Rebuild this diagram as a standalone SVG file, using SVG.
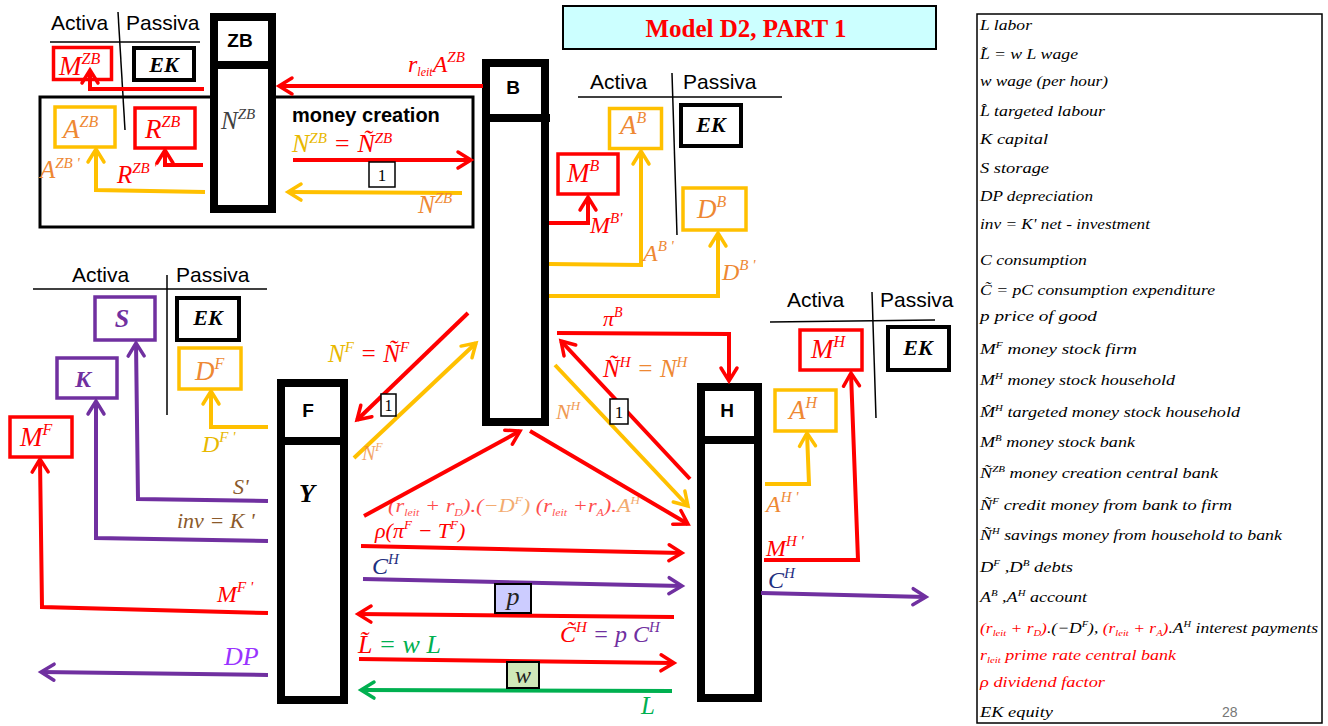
<svg xmlns="http://www.w3.org/2000/svg" width="1328" height="726" viewBox="0 0 1328 726">
<style>
.lgd{font-family:"Liberation Serif","DejaVu Serif",serif;font-style:italic;font-size:15px;fill:#000}
.m{font-family:"Liberation Serif","DejaVu Serif",serif;font-style:italic}
.bi{font-family:"Liberation Serif","DejaVu Serif",serif;font-style:italic;font-weight:bold}
.s{font-family:"Liberation Sans",Arial,sans-serif}
.hd{font-family:"Liberation Sans",Arial,sans-serif;font-weight:bold;font-size:19px;text-anchor:middle}
.ap{font-family:"Liberation Sans",Arial,sans-serif;font-size:21px;fill:#000}
.col{fill:#fff;stroke:#000;stroke-width:8}
.div{stroke:#000;stroke-width:8}
.thin{stroke:#000;stroke-width:1.5;fill:none}
.bR{fill:#fff;stroke:#FF0000;stroke-width:3.5}
.bG{fill:#fff;stroke:#FFC000;stroke-width:3.5}
.bP{fill:#fff;stroke:#7030A0;stroke-width:3.5}
.bK{fill:#fff;stroke:#000;stroke-width:4}
.one{fill:#fff;stroke:#000;stroke-width:1.5}
.lr{fill:none;stroke:#FF0000;stroke-width:4;marker-end:url(#mr)}
.lg{fill:none;stroke:#FFC000;stroke-width:4;marker-end:url(#mg)}
.lp{fill:none;stroke:#7030A0;stroke-width:4;marker-end:url(#mp)}
.lgr{fill:none;stroke:#00B050;stroke-width:4;marker-end:url(#mgr)}
.red{fill:#FF0000}.org{fill:#EE8833}.gold{fill:#E8B800}.pur{fill:#7030A0}.blu{fill:#1F3080}.brn{fill:#8B5A2B}.grn{fill:#00B050}
</style>
<defs>
<marker id="mr" viewBox="0 0 20 20" refX="17" refY="10" markerWidth="20" markerHeight="20" markerUnits="userSpaceOnUse" orient="auto" overflow="visible"><path d="M4,2 L17,10 L4,18" fill="none" stroke="#FF0000" stroke-width="3.5" stroke-linecap="round"/></marker>
<marker id="mg" viewBox="0 0 20 20" refX="17" refY="10" markerWidth="20" markerHeight="20" markerUnits="userSpaceOnUse" orient="auto" overflow="visible"><path d="M4,2 L17,10 L4,18" fill="none" stroke="#FFC000" stroke-width="3.5" stroke-linecap="round"/></marker>
<marker id="mp" viewBox="0 0 20 20" refX="17" refY="10" markerWidth="20" markerHeight="20" markerUnits="userSpaceOnUse" orient="auto" overflow="visible"><path d="M4,2 L17,10 L4,18" fill="none" stroke="#7030A0" stroke-width="3.5" stroke-linecap="round"/></marker>
<marker id="mgr" viewBox="0 0 20 20" refX="17" refY="10" markerWidth="20" markerHeight="20" markerUnits="userSpaceOnUse" orient="auto" overflow="visible"><path d="M4,2 L17,10 L4,18" fill="none" stroke="#00B050" stroke-width="3.5" stroke-linecap="round"/></marker>
</defs>
<rect width="1328" height="726" fill="#fff"/>

<!-- Title -->
<g id="title">
<rect x="563" y="6" width="373" height="43" fill="#CCFFFF" stroke="#000" stroke-width="2"/>
<text x="746" y="37" font-family="Liberation Serif,serif" font-weight="bold" font-size="25" fill="#FF0000" text-anchor="middle">Model D2, PART 1</text>
</g>

<!-- ZB balance sheet -->
<g id="balance-ZB">
<text class="ap" x="51" y="30">Activa</text>
<text class="ap" x="126" y="30">Passiva</text>
<line class="thin" x1="50" y1="42" x2="200" y2="42"/>
<line class="thin" x1="118" y1="12" x2="125" y2="130"/>
<rect class="bR" x="53.5" y="47.5" width="58" height="32"/>
<text class="m red" x="59" y="75" font-size="27">M<tspan dy="-11" font-size="16">ZB</tspan></text>
<rect class="bK" x="134" y="48" width="60" height="32"/>
<text class="bi" x="164" y="72" font-size="22" text-anchor="middle">EK</text>
</g>

<g id="money-creation">
<rect x="40" y="97" width="433" height="130" fill="none" stroke="#000" stroke-width="3"/>
<rect class="bG" x="55" y="107" width="60" height="40"/>
<text class="m org" x="63" y="138" font-size="27">A<tspan dy="-11" font-size="16">ZB</tspan></text>
<rect class="bR" x="135" y="108" width="60" height="40"/>
<text class="m red" x="145" y="138" font-size="27">R<tspan dy="-11" font-size="16">ZB</tspan></text>
<text class="s" x="292" y="122" font-size="20" font-weight="bold">money creation</text>
</g>

<!-- ZB column -->
<g id="ZB">
<rect class="col" x="214" y="17" width="58" height="192"/>
<line class="div" x1="210" y1="65" x2="276" y2="65"/>
<text class="hd" x="240" y="47">ZB</text>
<text class="m" x="221" y="129" font-size="25" fill="#404040">N<tspan dy="-10" font-size="15">ZB</tspan></text>
</g>

<!-- B column -->
<g id="B">
<rect class="col" x="486" y="63" width="59" height="359"/>
<line class="div" x1="482" y1="118" x2="550" y2="118"/>
<text class="hd" x="513" y="94">B</text>
</g>

<g id="balance-B">
<text class="ap" x="590" y="89">Activa</text>
<text class="ap" x="683" y="89">Passiva</text>
<line class="thin" x1="578" y1="97" x2="782" y2="97"/>
<line class="thin" x1="672" y1="73" x2="677" y2="235"/>
<rect class="bG" x="609.5" y="108.5" width="52" height="40"/>
<text class="m org" x="620" y="134" font-size="27">A<tspan dy="-11" font-size="16">B</tspan></text>
<rect class="bK" x="681" y="105" width="60" height="41"/>
<text class="bi" x="711" y="132" font-size="22" text-anchor="middle">EK</text>
<rect class="bR" x="558" y="154" width="60" height="40"/>
<text class="m red" x="567" y="182" font-size="27">M<tspan dy="-11" font-size="16">B</tspan></text>
<rect class="bG" x="683" y="188" width="63" height="42"/>
<text class="m org" x="697" y="218" font-size="27">D<tspan dy="-11" font-size="16">B</tspan></text>
</g>

<!-- F balance sheet -->
<g id="balance-F">
<text class="ap" x="72" y="282">Activa</text>
<text class="ap" x="176" y="282">Passiva</text>
<line class="thin" x1="33" y1="289" x2="267" y2="289"/>
<line class="thin" x1="167" y1="275" x2="167" y2="415"/>
<rect class="bP" x="95" y="297" width="60" height="43"/>
<text class="bi pur" x="122" y="327" font-size="26" text-anchor="middle">S</text>
<rect class="bK" x="177" y="298" width="62" height="42"/>
<text class="bi" x="208" y="325" font-size="22" text-anchor="middle">EK</text>
<rect class="bP" x="57" y="358" width="60" height="40"/>
<text class="bi pur" x="83" y="387" font-size="24" text-anchor="middle">K</text>
<rect class="bG" x="179" y="348" width="62" height="41"/>
<text class="m org" x="195" y="380" font-size="27">D<tspan dy="-11" font-size="16">F</tspan></text>
<rect class="bR" x="10" y="417" width="62" height="40"/>
<text class="m red" x="20" y="446" font-size="27">M<tspan dy="-11" font-size="16">F</tspan></text>
</g>

<!-- F column -->
<g id="F">
<rect class="col" x="281" y="383" width="63" height="317"/>
<line class="div" x1="281" y1="441" x2="340" y2="441"/>
<text class="hd" x="308" y="417">F</text>
<text class="bi" x="307" y="502" font-size="26" text-anchor="middle">Y</text>
</g>

<!-- H balance sheet -->
<g id="balance-H">
<text class="ap" x="787" y="307">Activa</text>
<text class="ap" x="880" y="307">Passiva</text>
<line class="thin" x1="770" y1="322" x2="935" y2="320"/>
<line class="thin" x1="872" y1="292" x2="876" y2="418"/>
<rect class="bR" x="800" y="330" width="62" height="40"/>
<text class="m red" x="811" y="358" font-size="27">M<tspan dy="-11" font-size="16">H</tspan></text>
<rect class="bK" x="888" y="327" width="61" height="43"/>
<text class="bi" x="918" y="355" font-size="22" text-anchor="middle">EK</text>
<rect class="bG" x="775" y="390" width="61" height="41"/>
<text class="m org" x="789" y="419" font-size="27">A<tspan dy="-11" font-size="16">H</tspan></text>
</g>

<!-- H column -->
<g id="H">
<rect class="col" x="701" y="387" width="57" height="311"/>
<line class="div" x1="697" y1="440" x2="762" y2="440"/>
<text class="hd" x="727" y="417">H</text>
</g>

<!-- Connectors -->
<g id="connectors">
<path class="lr" d="M483,86 L279,86"/>
<path class="lr" d="M204,89 L90,89 L90,70"/>
<path class="lr" d="M203,165 L165,165 L165,150"/>
<path class="lr" d="M293,160 L471,160"/>
<path class="lg" d="M205,192 L96,190 L96,149"/>
<path class="lg" d="M462,193 L288,192"/>
<path class="lr" d="M549,223 L588,223 L588,197"/>
<path class="lg" d="M549,264 L641,265 L641,151"/>
<path class="lg" d="M549,296 L718,296 L718,233"/>
<path class="lr" d="M468,313 L357,420"/>
<path class="lg" d="M354,458 L476,343"/>
<path class="lr" d="M364,516 L520,431"/>
<path class="lr" d="M530,431 L688,524"/>
<path class="lr" d="M690,479 L561,341"/>
<path class="lg" d="M555,365 L688,506"/>
<path class="lr" d="M557,333 L729,334 L729,381"/>
<path class="lg" d="M765,484 L809,484 L807,433"/>
<path class="lr" d="M764,560 L858,560 L851,373"/>
<path class="lp" d="M761,593 L926,597"/>
<path class="lr" d="M361,546 L682,553"/>
<path class="lp" d="M363,579 L682,586"/>
<path class="lr" d="M674,617 L358,614"/>
<path class="lr" d="M359,659 L674,663"/>
<path class="lgr" d="M672,691 L361,690"/>
<path class="lg" d="M268,427 L211,427 L211,391"/>
<path class="lp" d="M268,501 L138,499 L136,343"/>
<path class="lp" d="M268,541 L96,538 L96,401"/>
<path class="lr" d="M268,613 L42,607 L40,459"/>
<path class="lp" d="M268,675 L41,672"/>
</g>

<!-- Connector labels -->
<g id="labels">
<text class="m red" x="408" y="72" font-size="24">r<tspan dy="4" font-size="12">leit</tspan><tspan dy="-4">A</tspan><tspan dy="-10" font-size="15">ZB</tspan></text>
<text class="m org" x="40" y="178" font-size="25">A<tspan dy="-10" font-size="15">ZB '</tspan></text>
<text class="m red" x="117" y="183" font-size="25">R<tspan dy="-10" font-size="15">ZB '</tspan></text>
<text class="m" x="292" y="152" font-size="26"><tspan class="gold">N</tspan><tspan class="gold" dy="-9" font-size="15">ZB</tspan><tspan class="red" dy="9"> = Ñ</tspan><tspan class="red" dy="-9" font-size="15">ZB</tspan></text>
<rect class="one" x="369" y="162" width="26" height="25"/>
<text x="382" y="181" font-family="Liberation Serif,serif" font-size="17" text-anchor="middle">1</text>
<text class="m org" x="418" y="213" font-size="25">N<tspan dy="-10" font-size="15">ZB</tspan></text>
<text class="m red" x="590" y="233" font-size="24">M<tspan dy="-10" font-size="15">B'</tspan></text>
<text class="m org" x="643" y="261" font-size="24">A<tspan dy="-10" font-size="15">B '</tspan></text>
<text class="m org" x="722" y="280" font-size="24">D<tspan dy="-10" font-size="15">B '</tspan></text>
<text class="m gold" x="202" y="452" font-size="24">D<tspan dy="-10" font-size="15">F '</tspan></text>
<text class="m brn" x="233" y="494" font-size="22">S'</text>
<text class="m brn" x="177" y="528" font-size="22">inv = K '</text>
<text class="m red" x="217" y="602" font-size="24">M<tspan dy="-10" font-size="15">F '</tspan></text>
<text class="m" x="224" y="665" font-size="26" fill="#9933FF">DP</text>
<text class="m" x="328" y="362" font-size="25"><tspan class="gold">N</tspan><tspan class="gold" dy="-10" font-size="15">F</tspan><tspan class="red" dy="10"> = Ñ</tspan><tspan class="red" dy="-10" font-size="15">F</tspan></text>
<rect class="one" x="381" y="394" width="15" height="22"/>
<text x="388.5" y="411" font-family="Liberation Serif,serif" font-size="16" text-anchor="middle">1</text>
<text class="m org" x="362" y="460" font-size="20" opacity="0.75">N<tspan dy="-9" font-size="12">F</tspan></text>
<text class="m red" x="603" y="326" font-size="22">π<tspan dy="-9" font-size="14">B</tspan></text>
<text class="m" x="603" y="377" font-size="25"><tspan class="red">Ñ</tspan><tspan class="red" dy="-10" font-size="15">H</tspan><tspan class="org" dy="10"> = N</tspan><tspan class="org" dy="-10" font-size="15">H</tspan></text>
<rect class="one" x="610" y="399" width="18" height="25"/>
<text x="619" y="418" font-family="Liberation Serif,serif" font-size="17" text-anchor="middle">1</text>
<text class="m org" x="556" y="419" font-size="22" opacity="0.85">N<tspan dy="-9" font-size="13">H</tspan></text>
<text class="m" x="388" y="512" font-size="19" opacity="0.7" textLength="252" lengthAdjust="spacingAndGlyphs"><tspan class="red">(r</tspan><tspan class="red" dy="4" font-size="10">leit</tspan><tspan class="red" dy="-4"> + r</tspan><tspan class="red" dy="4" font-size="10">D</tspan><tspan class="red" dy="-4">).(</tspan><tspan class="org">−D</tspan><tspan class="org" dy="-8" font-size="11">F</tspan><tspan class="org" dy="8">)  </tspan><tspan class="red">(r</tspan><tspan class="red" dy="4" font-size="10">leit</tspan><tspan class="red" dy="-4"> +r</tspan><tspan class="red" dy="4" font-size="10">A</tspan><tspan class="red" dy="-4">).</tspan><tspan class="org">A</tspan><tspan class="org" dy="-8" font-size="11">H</tspan></text>
<text class="m red" x="375" y="538" font-size="22">ρ(π<tspan dy="-9" font-size="13">F</tspan><tspan dy="9"> − T</tspan><tspan dy="-9" font-size="13">F</tspan><tspan dy="9">)</tspan></text>
<text class="m blu" x="372" y="574" font-size="24">C<tspan dy="-10" font-size="15">H</tspan></text>
<rect x="495" y="584" width="36" height="29" fill="#CCCCFF" stroke="#000" stroke-width="2"/>
<text class="m" x="513" y="605" font-size="26" text-anchor="middle" fill="#222">p</text>
<text class="m" x="560" y="642" font-size="24"><tspan class="red">C̃</tspan><tspan class="red" dy="-10" font-size="15">H</tspan><tspan class="pur" dy="10"> = p C</tspan><tspan class="pur" dy="-10" font-size="15">H</tspan></text>
<text class="m" x="358" y="653" font-size="26"><tspan class="red">L̃</tspan><tspan class="grn"> = w L</tspan></text>
<rect x="507" y="662" width="32" height="26" fill="#CFE8B8" stroke="#000" stroke-width="2"/>
<text class="m" x="523" y="683" font-size="24" text-anchor="middle" fill="#222">w</text>
<text class="m grn" x="641" y="714" font-size="25">L</text>
<text class="m org" x="766" y="512" font-size="24">A<tspan dy="-10" font-size="15">H '</tspan></text>
<text class="m red" x="766" y="556" font-size="24">M<tspan dy="-10" font-size="15">H '</tspan></text>
<text class="m blu" x="768" y="588" font-size="24">C<tspan dy="-10" font-size="15">H</tspan></text>
</g>

<!-- Legend -->
<g id="legend">
<rect x="977" y="14" width="345" height="709" fill="#fff" stroke="#000" stroke-width="1.5"/>
<text class="lgd" x="980" y="30" textLength="52" lengthAdjust="spacingAndGlyphs">L labor</text>
<text class="lgd" x="980" y="59" textLength="98" lengthAdjust="spacingAndGlyphs">L̃ = w L wage</text>
<text class="lgd" x="980" y="86" textLength="128" lengthAdjust="spacingAndGlyphs">w wage (per hour)</text>
<text class="lgd" x="980" y="116" textLength="125" lengthAdjust="spacingAndGlyphs">L̂ targeted labour</text>
<text class="lgd" x="980" y="144" textLength="68" lengthAdjust="spacingAndGlyphs">K capital</text>
<text class="lgd" x="980" y="173" textLength="69" lengthAdjust="spacingAndGlyphs">S storage</text>
<text class="lgd" x="980" y="201" textLength="113" lengthAdjust="spacingAndGlyphs">DP depreciation</text>
<text class="lgd" x="980" y="229" textLength="170" lengthAdjust="spacingAndGlyphs">inv = K' net - investment</text>
<text class="lgd" x="980" y="265" textLength="107" lengthAdjust="spacingAndGlyphs">C consumption</text>
<text class="lgd" x="980" y="295" textLength="235" lengthAdjust="spacingAndGlyphs">C̃ = pC consumption expenditure</text>
<text class="lgd" x="980" y="321" textLength="117" lengthAdjust="spacingAndGlyphs">p price of good</text>
<text class="lgd" x="980" y="354" textLength="157" lengthAdjust="spacingAndGlyphs">M<tspan dy="-6" font-size="9">F</tspan><tspan dy="6"> money stock firm</tspan></text>
<text class="lgd" x="980" y="385" textLength="195" lengthAdjust="spacingAndGlyphs">M<tspan dy="-6" font-size="9">H</tspan><tspan dy="6"> money stock household</tspan></text>
<text class="lgd" x="980" y="417" textLength="260" lengthAdjust="spacingAndGlyphs">M̂<tspan dy="-6" font-size="9">H</tspan><tspan dy="6"> targeted money stock household</tspan></text>
<text class="lgd" x="980" y="447" textLength="155" lengthAdjust="spacingAndGlyphs">M<tspan dy="-6" font-size="9">B</tspan><tspan dy="6"> money stock bank</tspan></text>
<text class="lgd" x="980" y="478" textLength="238" lengthAdjust="spacingAndGlyphs">Ñ<tspan dy="-6" font-size="9">ZB</tspan><tspan dy="6"> money creation central bank</tspan></text>
<text class="lgd" x="980" y="510" textLength="252" lengthAdjust="spacingAndGlyphs">Ñ<tspan dy="-6" font-size="9">F</tspan><tspan dy="6"> credit money from bank to firm</tspan></text>
<text class="lgd" x="980" y="540" textLength="302" lengthAdjust="spacingAndGlyphs">Ñ<tspan dy="-6" font-size="9">H</tspan><tspan dy="6"> savings money from household to bank</tspan></text>
<text class="lgd" x="980" y="572" textLength="93" lengthAdjust="spacingAndGlyphs">D<tspan dy="-6" font-size="9">F</tspan><tspan dy="6"> ,D</tspan><tspan dy="-6" font-size="9">B</tspan><tspan dy="6"> debts</tspan></text>
<text class="lgd" x="980" y="602" textLength="107" lengthAdjust="spacingAndGlyphs">A<tspan dy="-6" font-size="9">B</tspan><tspan dy="6"> ,A</tspan><tspan dy="-6" font-size="9">H</tspan><tspan dy="6"> account</tspan></text>
<text class="lgd" x="980" y="633" textLength="338" lengthAdjust="spacingAndGlyphs"><tspan class="red">(r</tspan><tspan class="red" dy="3" font-size="9">leit</tspan><tspan class="red" dy="-3"> + r</tspan><tspan class="red" dy="3" font-size="9">D</tspan><tspan class="red" dy="-3">)</tspan>.(−D<tspan dy="-6" font-size="9">F</tspan><tspan dy="6">), </tspan><tspan class="red">(r</tspan><tspan class="red" dy="3" font-size="9">leit</tspan><tspan class="red" dy="-3"> + r</tspan><tspan class="red" dy="3" font-size="9">A</tspan><tspan class="red" dy="-3">)</tspan>.A<tspan dy="-6" font-size="9">H</tspan><tspan dy="6"> interest payments</tspan></text>
<text class="lgd red" x="980" y="660" textLength="196" lengthAdjust="spacingAndGlyphs">r<tspan dy="3" font-size="9">leit</tspan><tspan dy="-3">  prime rate central bank</tspan></text>
<text class="lgd red" x="980" y="687" textLength="125" lengthAdjust="spacingAndGlyphs">ρ dividend factor</text>
<text class="lgd" x="980" y="717" textLength="73" lengthAdjust="spacingAndGlyphs">EK equity</text>
<text class="s" x="1222" y="717" font-size="14" fill="#777">28</text>
</g>
</svg>
